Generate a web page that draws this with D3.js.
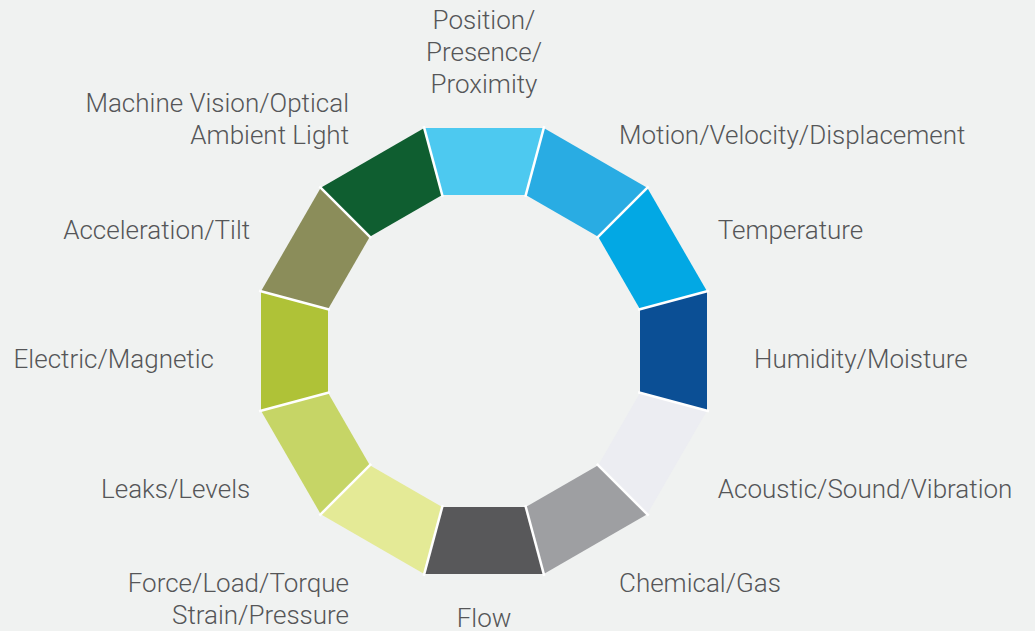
<!DOCTYPE html>
<html>
<head>
<meta charset="utf-8">
<script src="https://cdn.jsdelivr.net/npm/d3@7"></script>
<style>
  html, body { margin: 0; padding: 0; background: #f0f2f1; }
  svg { display: block; }
  text { font-family: Roboto, "Open Sans", sans-serif; font-weight: 300; fill: #555658; }
</style>
</head>
<body>
<script>
// Categories clockwise from the top, one label line per entry
const categories = [
  ["Position/", "Presence/", "Proximity"],
  ["Motion/Velocity/Displacement"],
  ["Temperature"],
  ["Humidity/Moisture"],
  ["Acoustic/Sound/Vibration"],
  ["Chemical/Gas"],
  ["Flow"],
  ["Force/Load/Torque", "Strain/Pressure"],
  ["Leaks/Levels"],
  ["Electric/Magnetic"],
  ["Acceleration/Tilt"],
  ["Machine Vision/Optical", "Ambient Light"]
];
const colors = [
  "#4dc9f0", "#29ace3", "#02a8e4", "#0b4f95",
  "#ecedf2", "#9e9fa2", "#58585a", "#e4ea96",
  "#c6d566", "#afc237", "#8b8d5a", "#0f5e30"
];

const width = 1035, height = 631;
const cx = 484, cy = 351;
const innerApothem = 156, outerApothem = 223;
// labels sit on a slightly flattened ellipse, a bit below the ring centre
const labelCy = 359, labelRx = 270, labelRy = 259;
const fontSize = 26, lineHeight = 32;

const svg = d3.select("body").append("svg")
  .attr("width", width)
  .attr("height", height);

const n = categories.length;
// angle in radians, 0 = up, clockwise
const angle = d3.scaleLinear().domain([0, n]).range([0, 2 * Math.PI]);
const half = Math.PI / n;

function polar(a, r) {
  return [cx + r * Math.sin(a), cy - r * Math.cos(a)];
}

const rIn = innerApothem / Math.cos(half);
const rOut = outerApothem / Math.cos(half);

const g = svg.append("g");

// segments of the dodecagon ring
g.selectAll("path.seg")
  .data(categories)
  .join("path")
    .attr("class", "seg")
    .attr("fill", (d, i) => colors[i])
    .attr("d", (d, i) => {
      const a0 = angle(i) - half, a1 = angle(i) + half;
      return "M" + [polar(a0, rOut), polar(a1, rOut), polar(a1, rIn), polar(a0, rIn)].join("L") + "Z";
    });

// thin white separators between segments
g.selectAll("line.sep")
  .data(d3.range(n))
  .join("line")
    .attr("class", "sep")
    .attr("stroke", "#ffffff")
    .attr("stroke-width", 2.5)
    .each(function(i) {
      const a = angle(i) + half;
      const p0 = polar(a, rIn - 2), p1 = polar(a, rOut + 2);
      d3.select(this).attr("x1", p0[0]).attr("y1", p0[1]).attr("x2", p1[0]).attr("y2", p1[1]);
    });

// labels
svg.selectAll("text.lab")
  .data(categories)
  .join("text")
    .attr("class", "lab")
    .attr("font-size", fontSize)
    .attr("text-anchor", (d, i) => {
      const s = Math.sin(angle(i));
      return Math.abs(s) < 0.01 ? "middle" : (s > 0 ? "start" : "end");
    })
    .each(function(lines, i) {
      const a = angle(i);
      const x = cx + labelRx * Math.sin(a);
      const y = labelCy - labelRy * Math.cos(a);
      const c = Math.cos(a);
      // upper labels stack upward, lower ones downward
      let y0 = y - (lines.length - 1) * lineHeight / 2;
      if (c > 0.5) y0 = y - (lines.length - 1) * lineHeight;
      if (c > 0.95) y0 -= lineHeight / 2;
      if (c < -0.5) y0 = y;
      d3.select(this).selectAll("tspan")
        .data(lines)
        .join("tspan")
          .attr("x", x)
          .attr("y", (l, k) => y0 + k * lineHeight)
          .attr("dy", "0.35em")
          .text(l => l);
    });
</script>
</body>
</html>
